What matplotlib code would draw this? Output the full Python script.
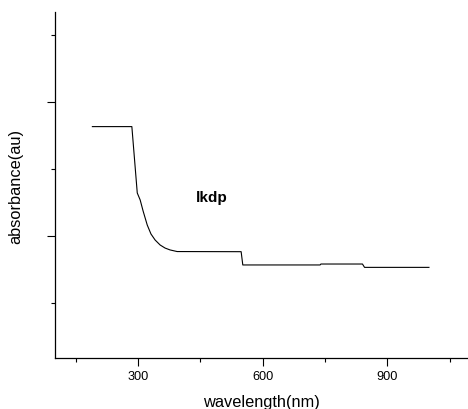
import matplotlib.pyplot as plt
from matplotlib.ticker import MultipleLocator

plt.rcParams['font.family'] = ['Liberation Sans', 'DejaVu Sans']

wl = [190, 285, 298, 305, 312, 322, 331, 341, 353, 365, 377, 394,
      548, 552, 738, 740, 840, 845, 1000]
ab = [1.816, 1.816, 1.321, 1.269, 1.187, 1.082, 1.015, 0.970, 0.933,
      0.910, 0.896, 0.884, 0.883, 0.784, 0.784, 0.791, 0.791, 0.766, 0.766]

fig = plt.figure(figsize=(4.68, 4.10), dpi=100)
ax = fig.add_axes([0.1175, 0.1244, 0.8825, 0.8436])
ax.plot(wl, ab, c="black", lw=0.8)

ax.set_xlim(100, 1094)
ax.set_ylim(0.09, 2.67)
ax.xaxis.set_major_locator(MultipleLocator(300))
ax.xaxis.set_minor_locator(MultipleLocator(150))
ax.yaxis.set_major_locator(MultipleLocator(1))
ax.yaxis.set_minor_locator(MultipleLocator(0.5))
ax.set_yticklabels([])
ax.tick_params(axis="x", which="major", length=6, width=0.8, labelsize=9.2, pad=3)
ax.tick_params(axis="x", which="minor", length=3, width=0.8)
ax.tick_params(axis="y", which="major", length=6, width=0.8)
ax.tick_params(axis="y", which="minor", length=3, width=0.8)
for s in ["top", "right"]:
    ax.spines[s].set_visible(False)
for s in ["left", "bottom"]:
    ax.spines[s].set_linewidth(0.9)

ax.set_xlabel("wavelength(nm)", fontsize=11.8)
ax.xaxis.set_label_coords(0.5, -0.103)
ax.set_ylabel("absorbance(au)", fontsize=11.8)
ax.yaxis.set_label_coords(-0.076, 0.5)
ax.text(478, 1.29, "lkdp", fontsize=11, fontweight="bold", ha="center", va="center")

fig.savefig("out.png", dpi=100)
